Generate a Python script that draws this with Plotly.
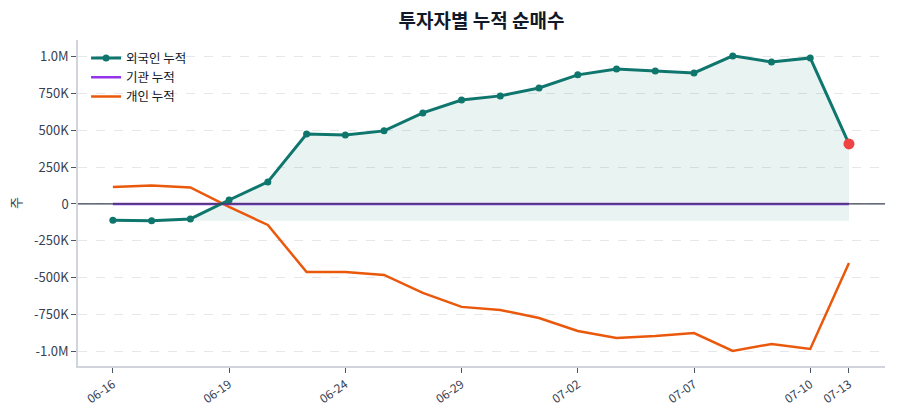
import plotly.graph_objects as go

dates = ["06-16", "06-17", "06-18", "06-19", "06-22", "06-23", "06-24", "06-25", "06-26", "06-29",
         "06-30", "07-01", "07-02", "07-03", "07-06", "07-07", "07-08", "07-09", "07-10", "07-13"]
foreign = [-110000, -115000, -102000, 27000, 150000, 476000, 469000, 497000, 619000, 707000,
           735000, 789000, 878000, 918000, 905000, 891000, 1007000, 966000, 993000, 408000]
institution = [0] * 20
individual = [116000, 125000, 112000, -20000, -143000, -463000, -463000, -483000, -605000, -700000,
              -721000, -776000, -864000, -912000, -898000, -878000, -1000000, -952000, -986000, -401000]
tick_labels = ["06-16", "06-19", "06-24", "06-29", "07-02", "07-07", "07-10", "07-13"]
y_ticks = [-1000000, -750000, -500000, -250000, 0, 250000, 500000, 750000, 1000000]
y_labels = ["-1.0M", "-750K", "-500K", "-250K", "0", "250K", "500K", "750K", "1.0M"]

FONT = "Noto Sans CJK KR"
x = list(range(len(dates)))
base = min(foreign)

fig = go.Figure()
fig.add_trace(go.Scatter(x=x, y=[base] * len(x), mode="lines", line=dict(width=0),
                         showlegend=False, hoverinfo="skip"))
fig.add_trace(go.Scatter(x=x, y=foreign, mode="lines", line=dict(width=0),
                         fill="tonexty", fillcolor="rgba(15,118,110,0.09)",
                         showlegend=False, hoverinfo="skip"))
fig.add_trace(go.Scatter(x=x, y=individual, mode="lines", name="개인 누적",
                         line=dict(color="#ea580c", width=2.5)))
fig.add_trace(go.Scatter(x=x, y=institution, mode="lines", name="기관 누적",
                         line=dict(color="#9333ea", width=2.5)))
fig.add_trace(go.Scatter(x=x, y=foreign, mode="lines+markers", name="외국인 누적",
                         line=dict(color="#0f766e", width=3),
                         marker=dict(size=7, color="#0f766e")))
fig.add_trace(go.Scatter(x=[x[-1]], y=[foreign[-1]], mode="markers", showlegend=False,
                         marker=dict(size=11, color="#ef4444")))

tick_pos = [dates.index(t) for t in tick_labels]

fig.add_shape(type="line", xref="paper", x0=0, x1=1, yref="y", y0=0, y1=0,
              line=dict(color="#374151", width=1.3), layer="above")

fig.update_layout(
    width=900, height=420,
    margin=dict(l=78, r=15, t=40, b=54),
    paper_bgcolor="white", plot_bgcolor="white",
    font=dict(family=FONT, size=12, color="#374151"),
    title=dict(text="<b>투자자별 누적 순매수</b>", x=0.535, xanchor="center",
               yref="container", y=0.948, yanchor="middle",
               font=dict(size=19, color="#111827", family=FONT)),
    legend=dict(x=0.01, y=0.99, xanchor="left", yanchor="top", bgcolor="rgba(255,255,255,0)",
                font=dict(size=12.5, color="#111827"), traceorder="reversed", tracegroupgap=0),
    showlegend=True,
)
fig.update_xaxes(
    range=[-0.9, 19.93], tickmode="array", tickvals=tick_pos, ticktext=tick_labels,
    tickangle=-35, showgrid=False, zeroline=False,
    showline=True, linecolor="#d1d5db", linewidth=1.5,
    ticks="outside", ticklen=5, tickcolor="#4b5563",
    tickfont=dict(size=12, color="#374151"),
)
fig.update_yaxes(
    range=[-1102000, 1115000], tickmode="array", tickvals=y_ticks, ticktext=y_labels,
    showgrid=True, gridcolor="#e5e7eb", griddash="dash", gridwidth=1,
    zeroline=False,
    showline=True, linecolor="#d1d5db", linewidth=1.5,
    ticks="outside", ticklen=5, tickcolor="#4b5563",
    tickfont=dict(size=13, color="#374151"),
    title=dict(text="주", font=dict(size=13, color="#374151"), standoff=10),
)

fig.write_html("out.html")
